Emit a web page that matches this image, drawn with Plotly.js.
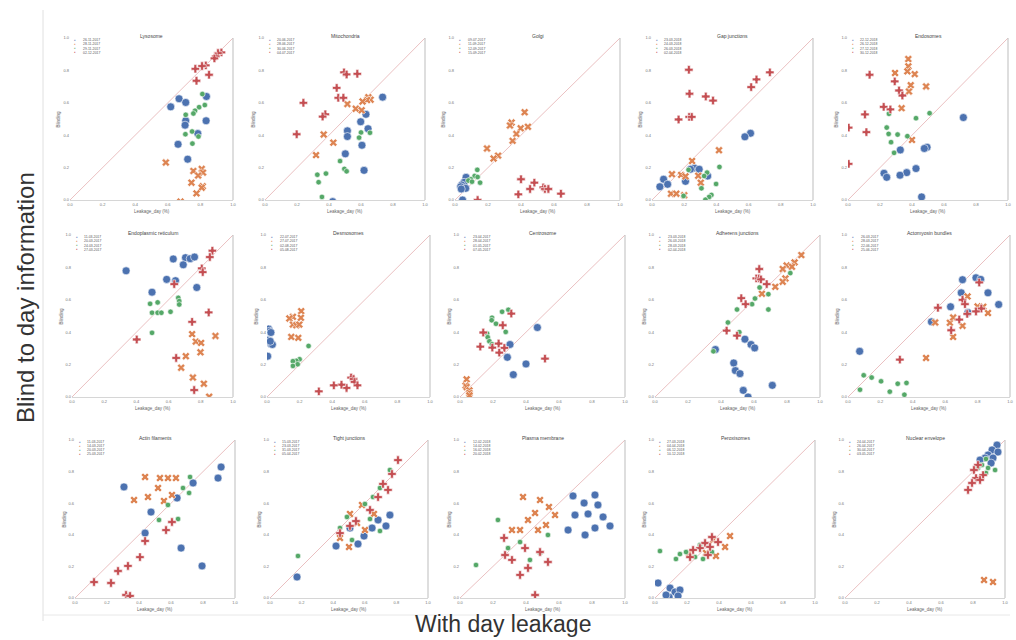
<!DOCTYPE html>
<html><head><meta charset="utf-8">
<script src="https://cdn.plot.ly/plotly-3.0.1.min.js"></script>
<style>body{margin:0;background:#fff}#chart{width:1016px;height:640px}</style>
</head><body><div id="chart"></div>
<script>
// ---------- DATA ----------
const panelTitles = ['Lysosome','Mitochondria','Golgi','Gap junctions','Endosomes',
  'Endoplasmic reticulum','Desmosomes','Centrosome','Adherens junctions','Actomyosin bundles',
  'Actin filaments','Tight junctions','Plasma membrane','Peroxisomes','Nuclear envelope'];

const legendDates = [
  ['26-11-2017','28-11-2017','29-11-2017','02-12-2017'],
  ['20-06-2017','28-06-2017','30-06-2017','04-07-2017'],
  ['09-07-2017','11-09-2017','12-09-2017','15-09-2017'],
  ['23-03-2018','24-03-2018','26-03-2018','02-04-2018'],
  ['22-12-2018','26-12-2018','27-12-2018','30-12-2018'],
  ['11-03-2017','20-03-2017','24-03-2017','27-03-2017'],
  ['22-07-2017','27-07-2017','02-08-2017','05-08-2017'],
  ['23-04-2017','28-04-2017','01-05-2017','07-05-2017'],
  ['23-03-2018','26-03-2018','28-03-2018','02-04-2018'],
  ['26-03-2017','28-03-2017','22-06-2017','25-06-2017'],
  ['11-03-2017','14-03-2017','20-03-2017','25-03-2017'],
  ['15-03-2017','23-03-2017','31-03-2017','05-04-2017'],
  ['12-02-2018','14-02-2018','16-02-2018','20-02-2018'],
  ['27-03-2018','04-04-2018','06-12-2018','10-12-2018'],
  ['24-04-2017','26-04-2017','30-04-2017','03-05-2017']];

const xAxisLabel = 'Leakage_day (%)';
const yAxisLabel = 'Blinding';
const tickValues = [0, 0.2, 0.4, 0.6, 0.8, 1.0];

// [x (with day leakage), y (blind to day)] per series
const lysosome = {
  blue: [[0.669,0.625],[0.618,0.575],[0.710,0.602],[0.837,0.639],[0.835,0.489],[0.710,0.489],[0.706,0.462],[0.784,0.410],[0.663,0.344],[0.722,0.252]],
  orange: [[0.588,0.231],[0.808,0.192],[0.757,0.179],[0.816,0.169],[0.786,0.151],[0.745,0.107],[0.814,0.085],[0.808,0.076],[0.776,0.041],[0.678,-0.01]],
  green: [[0.812,0.654],[0.827,0.586],[0.792,0.573],[0.767,0.551],[0.757,0.534],[0.710,0.526],[0.749,0.423],[0.708,0.406],[0.788,0.392],[0.751,0.348]],
  red: [[0.929,0.911],[0.908,0.907],[0.894,0.887],[0.886,0.874],[0.833,0.831],[0.810,0.827],[0.769,0.810],[0.853,0.773],[0.776,0.736]]};
const mitochondria = {
  blue: [[0.735,0.635],[0.631,0.529],[0.598,0.483],[0.644,0.440],[0.515,0.427],[0.515,0.392],[0.606,0.338],[0.502,0.285],[0.619,0.183],[0.423,-0.01]],
  orange: [[0.646,0.635],[0.660,0.619],[0.638,0.617],[0.610,0.608],[0.515,0.592],[0.567,0.563],[0.604,0.554],[0.367,0.404],[0.427,0.354],[0.319,0.277]],
  green: [[0.600,0.417],[0.656,0.415],[0.588,0.385],[0.469,0.240],[0.496,0.192],[0.510,0.177],[0.381,0.163],[0.327,0.156],[0.335,0.110],[0.356,0.019]],
  red: [[0.494,0.788],[0.510,0.775],[0.577,0.779],[0.448,0.692],[0.458,0.631],[0.490,0.631],[0.240,0.600],[0.377,0.529],[0.360,0.515],[0.198,0.406]]};
const golgi = {
  blue: [[0.067,0.140],[0.055,0.109],[0.040,0.093],[0.034,0.082],[0.065,0.072],[0.038,0.068],[0.046,0.0]],
  orange: [[0.422,0.542],[0.343,0.478],[0.333,0.460],[0.398,0.443],[0.442,0.452],[0.372,0.408],[0.349,0.365],[0.194,0.318],[0.261,0.274],[0.234,0.256]],
  green: [[0.135,0.186],[0.119,0.148],[0.097,0.128],[0.137,0.142],[0.081,0.120],[0.152,0.107],[0.103,0.113]],
  red: [[0.400,0.128],[0.481,0.107],[0.455,0.068],[0.535,0.078],[0.545,0.068],[0.566,0.068],[0.642,0.039],[0.384,0.035],[0.137,0.0]]};
const gapJunctions = {
  blue: [[0.612,0.412],[0.577,0.390],[0.262,0.198],[0.293,0.190],[0.239,0.190],[0.346,0.148],[0.208,0.115],[0.072,0.128],[0.097,0.097],[0.049,0.082]],
  orange: [[0.416,0.307],[0.249,0.241],[0.124,0.159],[0.181,0.155],[0.208,0.146],[0.287,0.150],[0.303,0.107],[0.118,0.039],[0.151,0.039],[0.200,0.029]],
  green: [[0.419,0.204],[0.342,0.169],[0.324,0.148],[0.227,0.186],[0.398,0.099],[0.307,0.072],[0.369,0.031],[0.355,0.019],[0.332,0.002],[0.196,0.025]],
  red: [[0.229,0.804],[0.732,0.788],[0.649,0.744],[0.616,0.697],[0.233,0.656],[0.334,0.639],[0.379,0.614],[0.231,0.513],[0.247,0.513],[0.165,0.497]]};
const endosomes = {
  blue: [[0.721,0.509],[0.494,0.326],[0.477,0.318],[0.327,0.309],[0.425,0.194],[0.367,0.169],[0.325,0.153],[0.225,0.165],[0.242,0.140],[0.460,0.019]],
  orange: [[0.377,0.870],[0.377,0.825],[0.294,0.784],[0.371,0.794],[0.417,0.777],[0.392,0.709],[0.488,0.701],[0.381,0.670],[0.335,0.567],[0.400,0.371]],
  green: [[0.510,0.536],[0.256,0.532],[0.425,0.505],[0.242,0.447],[0.254,0.408],[0.310,0.404],[0.371,0.394],[0.269,0.357],[0.288,0.291]],
  red: [[0.135,0.773],[0.292,0.732],[0.319,0.676],[0.340,0.645],[0.223,0.575],[0.265,0.559],[0.106,0.528],[0.115,0.419],[0.004,0.447],[0.004,0.223]]};
const endoplasmicReticulum = {
  blue: [[0.336,0.779],[0.629,0.852],[0.705,0.860],[0.734,0.854],[0.761,0.864],[0.691,0.816],[0.588,0.726],[0.643,0.718],[0.775,0.676],[0.497,0.647]],
  orange: [[0.746,0.388],[0.891,0.377],[0.769,0.342],[0.802,0.334],[0.798,0.276],[0.707,0.252],[0.678,0.181],[0.751,0.120],[0.819,0.082],[0.852,0.002]],
  green: [[0.660,0.612],[0.666,0.592],[0.666,0.571],[0.485,0.575],[0.532,0.584],[0.497,0.520],[0.532,0.520],[0.555,0.520],[0.612,0.526],[0.497,0.396]],
  red: [[0.872,0.903],[0.856,0.864],[0.806,0.794],[0.812,0.771],[0.635,0.697],[0.849,0.522],[0.746,0.464],[0.402,0.355],[0.647,0.241],[0.759,0.043]]};
const desmosomes = {
  blue: [[0.010,0.419],[0.016,0.406],[0.024,0.398],[0.006,0.351],[0.016,0.340],[0.024,0.328],[0.033,0.324],[0.004,0.252],[0.020,0.344]],
  orange: [[0.210,0.530],[0.208,0.489],[0.159,0.495],[0.137,0.485],[0.159,0.447],[0.180,0.443],[0.198,0.447],[0.149,0.371],[0.192,0.365]],
  green: [[0.255,0.315],[0.200,0.233],[0.180,0.223],[0.159,0.221],[0.188,0.202],[0.159,0.192]],
  red: [[0.516,0.120],[0.531,0.111],[0.537,0.093],[0.555,0.072],[0.488,0.056],[0.457,0.076],[0.410,0.072],[0.318,0.035]]};
const centrosome = {
  blue: [[0.469,0.429],[0.303,0.324],[0.287,0.245],[0.400,0.204],[0.323,0.138]],
  orange: [[0.040,0.109],[0.034,0.070],[0.040,0.062],[0.057,0.041],[0.057,0.025],[0.057,0.010]],
  green: [[0.255,0.526],[0.293,0.538],[0.194,0.489],[0.192,0.474],[0.218,0.452],[0.277,0.402],[0.164,0.392],[0.168,0.369],[0.178,0.344],[0.194,0.326]],
  red: [[0.311,0.515],[0.259,0.443],[0.141,0.398],[0.234,0.330],[0.123,0.311],[0.196,0.305],[0.269,0.303],[0.238,0.274],[0.515,0.237]]};
const adherensJunctions = {
  blue: [[0.545,0.357],[0.582,0.324],[0.604,0.303],[0.366,0.293],[0.477,0.210],[0.487,0.163],[0.515,0.144],[0.711,0.072],[0.535,0.041],[0.564,0.0]],
  orange: [[0.887,0.876],[0.846,0.831],[0.798,0.812],[0.830,0.804],[0.774,0.790],[0.790,0.732],[0.774,0.711],[0.729,0.680],[0.648,0.637]],
  green: [[0.820,0.765],[0.634,0.676],[0.687,0.635],[0.606,0.608],[0.588,0.573],[0.497,0.540],[0.687,0.540],[0.442,0.460],[0.511,0.400],[0.354,0.282]],
  red: [[0.632,0.790],[0.614,0.732],[0.630,0.732],[0.642,0.726],[0.677,0.697],[0.523,0.610],[0.549,0.573],[0.434,0.410],[0.497,0.379]]};
const actomyosinBundles = {
  blue: [[0.707,0.724],[0.790,0.736],[0.819,0.726],[0.699,0.643],[0.864,0.643],[0.930,0.571],[0.633,0.557],[0.740,0.522],[0.515,0.464],[0.072,0.282]],
  orange: [[0.738,0.621],[0.800,0.559],[0.835,0.557],[0.864,0.518],[0.538,0.460],[0.629,0.458],[0.649,0.491],[0.707,0.439],[0.649,0.371],[0.482,0.241]],
  green: [[0.097,0.134],[0.146,0.120],[0.204,0.097],[0.361,0.087],[0.307,0.082],[0.074,0.045],[0.258,0.033],[0.348,0.014]],
  red: [[0.810,0.707],[0.555,0.551],[0.707,0.600],[0.722,0.573],[0.736,0.513],[0.823,0.546],[0.790,0.528],[0.687,0.478],[0.637,0.412],[0.320,0.231]]};
const actinFilaments = {
  blue: [[0.913,0.829],[0.894,0.759],[0.306,0.703],[0.738,0.728],[0.638,0.633],[0.475,0.544],[0.438,0.411],[0.663,0.316],[0.794,0.203]],
  orange: [[0.438,0.766],[0.531,0.759],[0.581,0.759],[0.631,0.759],[0.519,0.696],[0.606,0.652],[0.456,0.639],[0.369,0.620],[0.556,0.614]],
  green: [[0.719,0.766],[0.675,0.696],[0.713,0.665],[0.581,0.589],[0.525,0.494],[0.644,0.500]],
  red: [[0.606,0.481],[0.569,0.430],[0.438,0.361],[0.406,0.259],[0.269,0.171],[0.331,0.203],[0.225,0.095],[0.119,0.101],[0.319,0.019],[0.344,0.013]]};
const tightJunctions = {
  blue: [[0.684,0.494],[0.734,0.456],[0.646,0.443],[0.595,0.392],[0.506,0.443],[0.557,0.342],[0.418,0.329],[0.171,0.133],[0.759,0.525]],
  orange: [[0.582,0.589],[0.506,0.532],[0.551,0.475],[0.443,0.380],[0.500,0.323],[0.601,0.430],[0.658,0.532]],
  green: [[0.759,0.810],[0.696,0.696],[0.652,0.639],[0.601,0.595],[0.633,0.500],[0.487,0.513],[0.443,0.443],[0.519,0.367],[0.696,0.424],[0.177,0.266]],
  red: [[0.810,0.873],[0.772,0.785],[0.715,0.722],[0.747,0.684],[0.684,0.639],[0.633,0.557],[0.544,0.487],[0.506,0.456],[0.443,0.411]]};
const plasmaMembrane = {
  blue: [[0.685,0.646],[0.752,0.601],[0.818,0.652],[0.836,0.589],[0.776,0.532],[0.867,0.513],[0.909,0.456],[0.697,0.525],[0.818,0.443],[0.758,0.399],[0.655,0.430]],
  orange: [[0.382,0.639],[0.485,0.620],[0.539,0.576],[0.576,0.525],[0.455,0.538],[0.412,0.494],[0.364,0.430],[0.473,0.430],[0.315,0.430],[0.521,0.462]],
  green: [[0.230,0.494],[0.364,0.354],[0.291,0.316],[0.533,0.399],[0.485,0.285],[0.097,0.209],[0.424,0.241]],
  red: [[0.267,0.380],[0.394,0.316],[0.485,0.291],[0.533,0.228],[0.315,0.241],[0.364,0.146],[0.412,0.190],[0.455,0.019],[0.273,0.272]]};
const peroxisomes = {
  blue: [[0.094,0.063],[0.125,0.038],[0.156,0.051],[0.088,0.006],[0.019,0.095],[0.069,0.019],[0.144,0.013]],
  orange: [[0.469,0.392],[0.363,0.367],[0.438,0.323],[0.319,0.285],[0.381,0.266],[0.213,0.285]],
  green: [[0.281,0.335],[0.194,0.291],[0.250,0.259],[0.156,0.278],[0.131,0.247],[0.300,0.247],[0.031,0.297],[0.356,0.291]],
  red: [[0.356,0.386],[0.313,0.348],[0.344,0.323],[0.281,0.316],[0.394,0.354],[0.238,0.304],[0.331,0.272],[0.219,0.259]]};
const nuclearEnvelope = {
  blue: [[0.950,0.968],[0.919,0.937],[0.956,0.924],[0.894,0.905],[0.925,0.886],[0.875,0.886],[0.844,0.873],[0.913,0.854]],
  orange: [[0.869,0.114],[0.925,0.101]],
  green: [[0.881,0.880],[0.856,0.842],[0.894,0.823],[0.831,0.823],[0.938,0.810],[0.881,0.791]],
  red: [[0.831,0.842],[0.806,0.810],[0.863,0.778],[0.819,0.759],[0.794,0.728],[0.844,0.747],[0.769,0.684]]};

const panelData = [lysosome, mitochondria, golgi, gapJunctions, endosomes,
  endoplasmicReticulum, desmosomes, centrosome, adherensJunctions, actomyosinBundles,
  actinFilaments, tightJunctions, plasmaMembrane, peroxisomes, nuclearEnvelope];
const seriesKeys = ['blue','orange','green','red'];

// ---------- STYLE / LAYOUT ----------
const W = 1016, H = 640;
const boxes = [ // [left,right,top,bottom] in px
  [70,233,38,200],[265,425,38,200],[455,620,38,200],[652,813,38,200],[848,1008,38,200],
  [72,233,235,397],[267,430,235,397],[460,625,235,397],[655,820,235,397],[848,1010,235,397],
  [75,235,440,598],[270,428,440,598],[460,625,440,598],[655,815,440,598],[845,1005,440,598]];
const styles = {
  blue:   {symbol:'circle', size:8,   color:'#4c72b0'},
  orange: {symbol:'x',      size:7,   color:'#dd8452'},
  green:  {symbol:'circle', size:5.5, color:'#55a868'},
  red:    {symbol:'cross',  size:7,   color:'#c44e52'}};
const FONT = 'Liberation Sans, Arial, sans-serif';

const traces = [];
const layout = {
  width: W, height: H, margin:{l:0,r:0,t:0,b:0},
  paper_bgcolor:'#fff', plot_bgcolor:'#fff', showlegend:false,
  font:{family:FONT, color:'#444'},
  shapes:[], annotations:[]
};

panelData.forEach((pd, i) => {
  const n = i === 0 ? '' : String(i + 1);
  const xa = 'x' + n, ya = 'y' + n;
  const [l, r, t, b] = boxes[i];
  seriesKeys.forEach((k, j) => {
    const st = styles[k];
    traces.push({
      type:'scatter', mode:'markers', xaxis:xa, yaxis:ya,
      name: legendDates[i][j],
      x: pd[k].map(p => p[0]), y: pd[k].map(p => p[1]),
      marker:{symbol:st.symbol, size:st.size, color:st.color, line:{color:'#fff', width:0.6}},
      hoverinfo:'skip'
    });
  });
  const axCommon = {
    range:[0,1], tickvals:tickValues, ticktext:tickValues.map(v=>v.toFixed(1)),
    showgrid:false, zeroline:false, ticks:'', tickfont:{size:4, color:'#777'},
  };
  layout['xaxis' + n] = Object.assign({}, axCommon, {
    domain:[l / W, r / W], anchor: ya,
    showline:true, linecolor:'#d6d6d6', linewidth:1
  });
  layout['yaxis' + n] = Object.assign({}, axCommon, {
    domain:[1 - b / H, 1 - t / H], anchor: xa,
    showline:false
  });
  // identity diagonal
  layout.shapes.push({type:'line', xref:xa + ' domain', yref:ya + ' domain',
    x0:0, y0:0, x1:1, y1:1, line:{color:'rgba(196,78,82,0.45)', width:0.8}, layer:'below'});
  // right spine
  layout.shapes.push({type:'line', xref:xa + ' domain', yref:ya + ' domain',
    x0:1, y0:0, x1:1, y1:1, line:{color:'#c8c8c8', width:1.2}});
  // panel title
  layout.annotations.push({xref:xa + ' domain', yref:ya + ' domain', x:0.5, y:1.0,
    yanchor:'bottom', xanchor:'center', showarrow:false, text:panelTitles[i],
    font:{size:5, color:'#444', family:FONT}, yshift:-3});
  // axis titles
  layout.annotations.push({xref:xa + ' domain', yref:ya + ' domain', x:0.5, y:0,
    yanchor:'top', xanchor:'center', showarrow:false, text:xAxisLabel, yshift:-7,
    font:{size:4.5, color:'#666', family:FONT}});
  layout.annotations.push({xref:xa + ' domain', yref:ya + ' domain', x:0, y:0.5,
    yanchor:'middle', xanchor:'right', showarrow:false, text:yAxisLabel, textangle:-90,
    xshift:-7, font:{size:4.5, color:'#666', family:FONT}});
  // per-panel legend: colored dot + date text, one row per series
  seriesKeys.forEach((k, j) => {
    const yy = 0.985 - j * 0.025;
    layout.annotations.push({xref:xa + ' domain', yref:ya + ' domain', x:0.03, y:yy,
      xanchor:'center', yanchor:'middle', showarrow:false, text:'●',
      font:{size:2.6, color:styles[k].color, family:FONT}});
    layout.annotations.push({xref:xa + ' domain', yref:ya + ' domain', x:0.065, y:yy,
      xanchor:'left', yanchor:'middle', showarrow:false, text:legendDates[i][j],
      font:{size:3.4, color:'#555', family:FONT}});
  });
});

// figure-level labels
layout.annotations.push({xref:'paper', yref:'paper', x:25 / W, y:1 - 298 / H,
  text:'Blind to day information', textangle:-90, showarrow:false,
  xanchor:'center', yanchor:'middle', font:{size:24, color:'#333', family:FONT}});
layout.annotations.push({xref:'paper', yref:'paper', x:503 / W, y:1 - 624 / H,
  text:'With day leakage', showarrow:false,
  xanchor:'center', yanchor:'middle', font:{size:23, color:'#333', family:FONT}});
// faint frame lines of the composed figure
layout.shapes.push({type:'line', xref:'paper', yref:'paper', x0:43 / W, x1:43 / W,
  y0:1 - 10 / H, y1:1 - 621 / H, line:{color:'#e0e0e0', width:1}});
layout.shapes.push({type:'line', xref:'paper', yref:'paper', x0:43 / W, x1:1010 / W,
  y0:1 - 615 / H, y1:1 - 615 / H, line:{color:'#e8e8e8', width:1}});

Plotly.newPlot('chart', traces, layout, {staticPlot:true, displayModeBar:false});
</script>
</body></html>
